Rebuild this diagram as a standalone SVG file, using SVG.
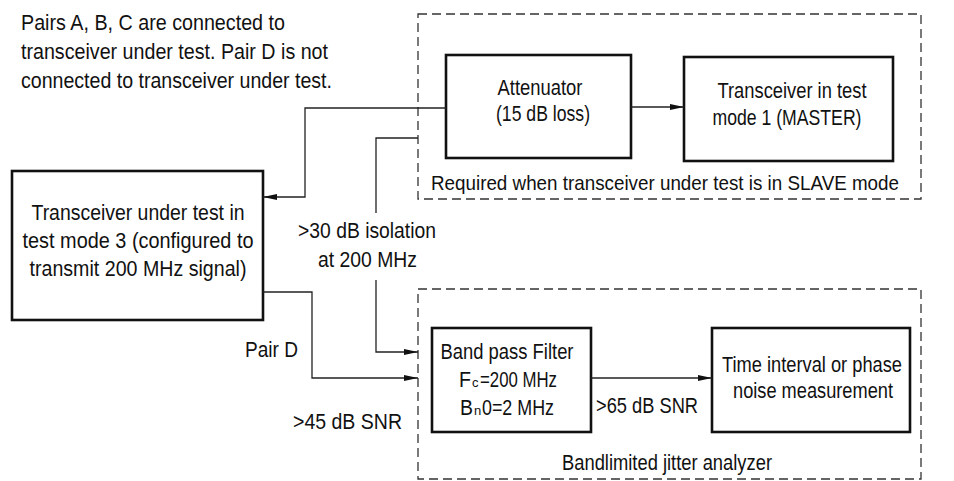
<svg xmlns="http://www.w3.org/2000/svg" width="954" height="481" viewBox="0 0 954 481">
<style>
text{font-family:"Liberation Sans",Arial,sans-serif;font-size:22px;fill:#111}
.box{fill:none;stroke:#111;stroke-width:2.6}
.dash{fill:none;stroke:#333;stroke-width:1.3;stroke-dasharray:9 5}
.wire{fill:none;stroke:#222;stroke-width:1.3}
.c{text-anchor:middle}
.sub{font-size:13px}
</style>
<defs>
<marker id="ah" viewBox="0 0 14 6" refX="14" refY="3" markerWidth="14" markerHeight="6" markerUnits="userSpaceOnUse" orient="auto">
<path d="M0,0 L14,3 L0,6 Z" fill="#111"/>
</marker>
</defs>
<rect fill="#fff" width="954" height="481"/>
<g id="note">
<text x="21" y="30" textLength="264" lengthAdjust="spacingAndGlyphs">Pairs A, B, C are connected to</text>
<text x="21" y="59" textLength="307" lengthAdjust="spacingAndGlyphs">transceiver under test. Pair D is not</text>
<text x="21" y="88" textLength="311" lengthAdjust="spacingAndGlyphs">connected to transceiver under test.</text>
</g>
<g id="group-slave">
<rect class="dash" x="418" y="14" width="503" height="185"/>
<text class="c" x="665" y="190" style="font-size:21px" textLength="468" lengthAdjust="spacingAndGlyphs">Required when transceiver under test is in SLAVE mode</text>
</g>
<g id="group-analyzer">
<rect class="dash" x="418" y="289" width="503" height="190"/>
<text class="c" x="667" y="470" textLength="210" lengthAdjust="spacingAndGlyphs">Bandlimited jitter analyzer</text>
</g>
<g id="attenuator">
<rect class="box" x="446" y="55" width="185" height="103"/>
<text class="c" x="540" y="95" textLength="85" lengthAdjust="spacingAndGlyphs">Attenuator</text>
<text class="c" x="543" y="121" textLength="94" lengthAdjust="spacingAndGlyphs">(15 dB loss)</text>
</g>
<g id="master">
<rect class="box" x="684" y="57" width="209" height="104"/>
<text class="c" x="792" y="98" textLength="149" lengthAdjust="spacingAndGlyphs">Transceiver in test</text>
<text class="c" x="787" y="125" textLength="149" lengthAdjust="spacingAndGlyphs">mode 1 (MASTER)</text>
</g>
<g id="dut">
<rect class="box" x="12" y="171" width="251" height="149"/>
<text class="c" x="138" y="220" textLength="213" lengthAdjust="spacingAndGlyphs">Transceiver under test in</text>
<text class="c" x="138" y="248" textLength="231" lengthAdjust="spacingAndGlyphs">test mode 3 (configured to</text>
<text class="c" x="138" y="276" textLength="217" lengthAdjust="spacingAndGlyphs">transmit 200 MHz signal)</text>
</g>
<g id="bpf">
<rect class="box" x="432" y="328" width="159" height="104"/>
<text class="c" x="507" y="359" textLength="133" lengthAdjust="spacingAndGlyphs">Band pass Filter</text>
<text x="459" y="387" textLength="12" lengthAdjust="spacingAndGlyphs">F</text>
<text class="sub" x="472" y="387">c</text>
<text x="480" y="387" textLength="77" lengthAdjust="spacingAndGlyphs">=200 MHz</text>
<text x="460" y="415" textLength="13" lengthAdjust="spacingAndGlyphs">B</text>
<text class="sub" x="474" y="415">n</text>
<text x="482" y="415" textLength="72" lengthAdjust="spacingAndGlyphs">0=2 MHz</text>
</g>
<g id="measure">
<rect class="box" x="712" y="328" width="198" height="104"/>
<text class="c" x="812" y="372" textLength="180" lengthAdjust="spacingAndGlyphs">Time interval or phase</text>
<text class="c" x="813" y="398" textLength="160" lengthAdjust="spacingAndGlyphs">noise measurement</text>
</g>
<g id="connectors">
<polyline class="wire" points="446,108 305,108 305,197 263,197" marker-end="url(#ah)"/>
<polyline class="wire" points="418,138 376,138 376,213"/>
<polyline class="wire" points="376,280 376,352 418,352" marker-end="url(#ah)"/>
<polyline class="wire" points="263,292 312,292 312,378 418,378" marker-end="url(#ah)"/>
<line class="wire" x1="631" y1="107" x2="684" y2="107" marker-end="url(#ah)"/>
<line class="wire" x1="591" y1="378" x2="712" y2="378" marker-end="url(#ah)"/>
</g>
<g id="labels">
<text x="298" y="238" textLength="138" lengthAdjust="spacingAndGlyphs">&gt;30 dB isolation</text>
<text x="318" y="267" textLength="99" lengthAdjust="spacingAndGlyphs">at 200 MHz</text>
<text x="245" y="357" textLength="53" lengthAdjust="spacingAndGlyphs">Pair D</text>
<text x="293" y="429" textLength="109" lengthAdjust="spacingAndGlyphs">&gt;45 dB SNR</text>
<text x="596" y="413" textLength="102" lengthAdjust="spacingAndGlyphs">&gt;65 dB SNR</text>
</g>
</svg>
